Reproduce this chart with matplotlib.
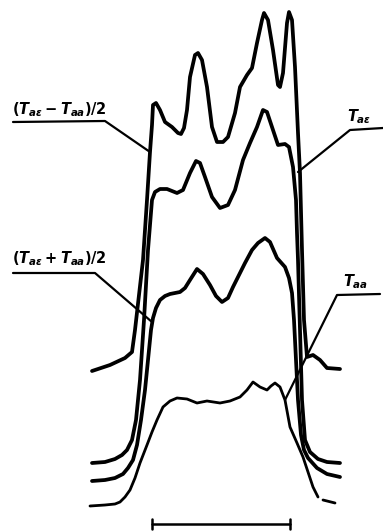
import numpy as np
import matplotlib.pyplot as plt
from matplotlib import rcParams

rcParams["mathtext.fontset"] = "custom"
rcParams["mathtext.it"] = "DejaVu Sans:italic:bold"
rcParams["mathtext.rm"] = "DejaVu Sans:bold"
rcParams["mathtext.default"] = "it"

W, H = 383, 532

# Traced profiles, x across the section, y as drawn (downwards).
diff_x = [92, 110, 125, 132, 135, 139, 143, 147, 150, 152, 153, 156, 160, 165, 172,
          178, 181, 184, 187, 190, 195, 198, 202, 207, 212, 217, 223, 228, 235, 240, 247,
          252, 257, 262, 264, 268, 273, 278, 280, 283, 287, 289, 292, 295, 298, 300,
          302, 304, 307, 313, 320, 327, 340]
diff_y = [371, 365, 358, 352, 330, 295, 260, 200, 152, 125, 105, 103, 110, 122, 127,
          133, 134, 128, 110, 77, 55, 53, 60, 87, 127, 142, 142, 137, 113, 87, 75,
          68, 43, 20, 13, 20, 50, 85, 87, 73, 23, 12, 20, 67, 133, 173,
          250, 320, 357, 355, 360, 368, 369]

te_x = [92, 105, 115, 122, 127, 132, 136, 140, 144, 148, 152, 155, 160, 167, 177,
        183, 190, 196, 200, 205, 212, 220, 228, 235, 243, 250, 257, 263, 267, 272,
        278, 285, 289, 293, 296, 297, 298, 300, 302, 305, 310, 318, 327, 340]
te_y = [463, 462, 459, 455, 450, 440, 420, 380, 320, 250, 200, 192, 189, 189, 193,
        190, 173, 161, 163, 177, 197, 208, 205, 190, 160, 143, 127, 110, 112, 127,
        145, 144, 147, 167, 200, 233, 260, 330, 400, 440, 452, 459, 462, 463]

mean_x = [92, 105, 115, 123, 128, 133, 137, 141, 145, 148, 151, 153, 156, 160, 165,
          170, 175, 180, 185, 190, 197, 203, 210, 216, 222, 228, 233, 240, 245, 252,
          258, 265, 270, 277, 285, 289, 292, 294, 296, 298, 301, 304, 308, 317, 327, 340]
mean_y = [481, 480, 478, 474, 468, 460, 445, 420, 390, 360, 330, 318, 308, 300, 296,
          294, 293, 292, 288, 280, 269, 274, 285, 296, 302, 298, 287, 273, 263, 250,
          243, 238, 242, 258, 267, 278, 293, 320, 360, 400, 435, 450, 458, 468, 474, 477]

ta_x = [90, 105, 115, 120, 125, 130, 135, 140, 147, 152, 157, 163, 170, 177, 187,
        197, 207, 220, 230, 240, 247, 253, 260, 267, 271, 275, 280, 285, 290, 297,
        303, 308, 313, 318, np.nan, 323, 335]
ta_y = [506, 505, 504, 502, 497, 490, 478, 463, 445, 432, 420, 407, 401, 398, 399,
        403, 401, 403, 401, 397, 390, 382, 387, 390, 386, 383, 387, 400, 427, 443,
        457, 472, 487, 497, np.nan, 500, 503]

labels = [r"$(T_{a\varepsilon}-T_{aa})/2$", r"$(T_{a\varepsilon}+T_{aa})/2$",
          r"$T_{a\varepsilon}$", r"$T_{aa}$"]

# leader lines: underline start, knee, tip on the curve
leaders = [
    [(13, 122), (105, 121), (150, 152)],
    [(13, 273), (95, 273), (152, 322)],
    [(383, 128), (350, 130), (298, 172)],
    [(380, 294), (337, 295), (285, 400)],
]
label_pos = [(12, 119), (12, 268), (347, 126), (343, 291)]

fig = plt.figure(figsize=(W / 100, H / 100), dpi=100)
ax = fig.add_axes([0, 0, 1, 1])
ax.set_xlim(0, W)
ax.set_ylim(H, 0)
ax.axis("off")

kw = dict(color="black", solid_capstyle="round", solid_joinstyle="round")
ax.plot(diff_x, diff_y, lw=2.7, **kw)
ax.plot(te_x, te_y, lw=2.7, **kw)
ax.plot(mean_x, mean_y, lw=2.7, **kw)
ax.plot(ta_x, ta_y, lw=2.0, **kw)

for pts in leaders:
    xs, ys = zip(*pts)
    ax.plot(xs, ys, lw=1.6, **kw)

for text, (x, y) in zip(labels, label_pos):
    ax.text(x, y, text, fontsize=10.5, ha="left", va="bottom", color="black")

# scale bar
ax.plot([152, 290], [524, 524], lw=1.8, **kw)
for xe in (152, 290):
    ax.plot([xe, xe], [519, 529], lw=1.8, **kw)

fig.savefig("out.png", dpi=100, facecolor="white")
